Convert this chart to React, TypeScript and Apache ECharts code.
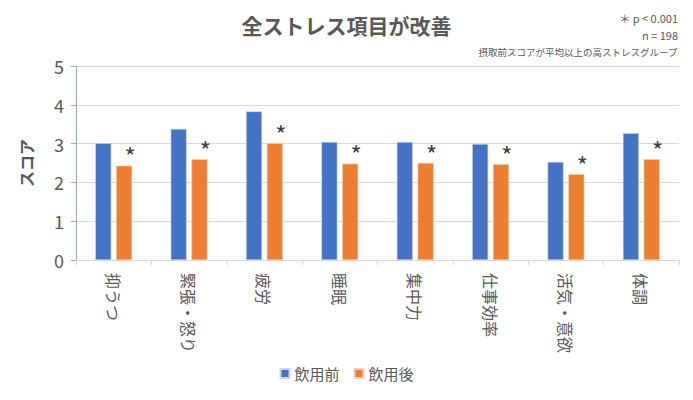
import React, { useEffect, useRef } from "react";
import * as echarts from "echarts";

const categories = ["抑うつ", "緊張・怒り", "疲労", "睡眠", "集中力", "仕事効率", "活気・意欲", "体調"];
const beforeValues = [3.01, 3.38, 3.83, 3.04, 3.04, 2.99, 2.53, 3.27];
const afterValues = [2.43, 2.6, 3.01, 2.48, 2.5, 2.47, 2.21, 2.6];
const seriesNames = ["飲用前", "飲用後"];
const yTicks = { min: 0, max: 5, interval: 1 };
const titleText = "全ストレス項目が改善";
const noteLines = ["＊ p < 0.001", "n = 198", "摂取前スコアが平均以上の高ストレスグループ"];

const FONT = "'Noto Sans CJK JP', 'Noto Sans', sans-serif";
const GRAY = "#595959";

export default function App() {
  const ref = useRef<HTMLDivElement>(null);
  useEffect(() => {
    document.body.style.margin = "0";
    const chart = echarts.init(ref.current!, undefined, { renderer: "svg" });
    chart.setOption({
      animation: false,
      textStyle: { fontFamily: FONT },
      title: {
        text: titleText,
        left: "center",
        top: 9,
        textStyle: { fontSize: 21, fontWeight: "bold", color: GRAY, fontFamily: FONT },
      },
      graphic: [
        { type: "text", right: 15, top: 12, style: { text: noteLines[0], fontSize: 11, fill: GRAY, fontFamily: FONT } },
        { type: "text", right: 15, top: 29, style: { text: noteLines[1], fontSize: 11, fill: GRAY, fontFamily: FONT } },
        { type: "text", right: 15, top: 47, style: { text: noteLines[2], fontSize: 9.5, fill: GRAY, fontFamily: FONT } },
      ],
      legend: {
        bottom: 14,
        left: "center",
        itemWidth: 9,
        itemHeight: 9,
        itemGap: 14,
        icon: "rect",
        textStyle: { fontSize: 15, color: GRAY, fontFamily: FONT },
        data: seriesNames,
      },
      grid: { left: 76, right: 14, top: 66, bottom: 140 },
      xAxis: {
        type: "category",
        data: categories,
        axisLine: { lineStyle: { color: "#D9D9D9", width: 1 } },
        axisTick: { show: true, length: 5, lineStyle: { color: "#D9D9D9" } },
        axisLabel: { rotate: -90, fontSize: 16, color: GRAY, margin: 13, fontFamily: FONT },
      },
      yAxis: {
        type: "value",
        min: yTicks.min,
        max: yTicks.max,
        interval: yTicks.interval,
        name: "スコア",
        nameLocation: "middle",
        nameGap: 42,
        nameRotate: 90,
        nameTextStyle: { fontSize: 16, color: GRAY, fontFamily: FONT, fontWeight: "bold" },
        axisLine: { show: true, lineStyle: { color: "#8FAADC", width: 1 } },
        axisTick: { show: true, length: 5, lineStyle: { color: "#8FAADC" } },
        axisLabel: { fontSize: 18, color: GRAY, margin: 12, fontFamily: FONT },
        splitLine: { lineStyle: { color: "#D9D9D9" } },
      },
      series: [
        {
          name: seriesNames[0],
          type: "bar",
          data: beforeValues,
          barWidth: 16,
          barGap: "30%",
          itemStyle: { color: "#4472C4", borderColor: "#C9D5EE", borderWidth: 0.6 },
        },
        {
          name: seriesNames[1],
          type: "bar",
          data: afterValues,
          barWidth: 16,
          itemStyle: { color: "#ED7D31", borderColor: "#F8CDB0", borderWidth: 0.6 },
          label: {
            show: true,
            position: "top",
            formatter: "*",
            offset: [6, 7],
            fontSize: 24,
            color: "#404040",
            fontFamily: FONT,
          },
        },
      ],
    });
    return () => chart.dispose();
  }, []);
  return <div ref={ref} style={{ width: 693, height: 400 }} />;
}
